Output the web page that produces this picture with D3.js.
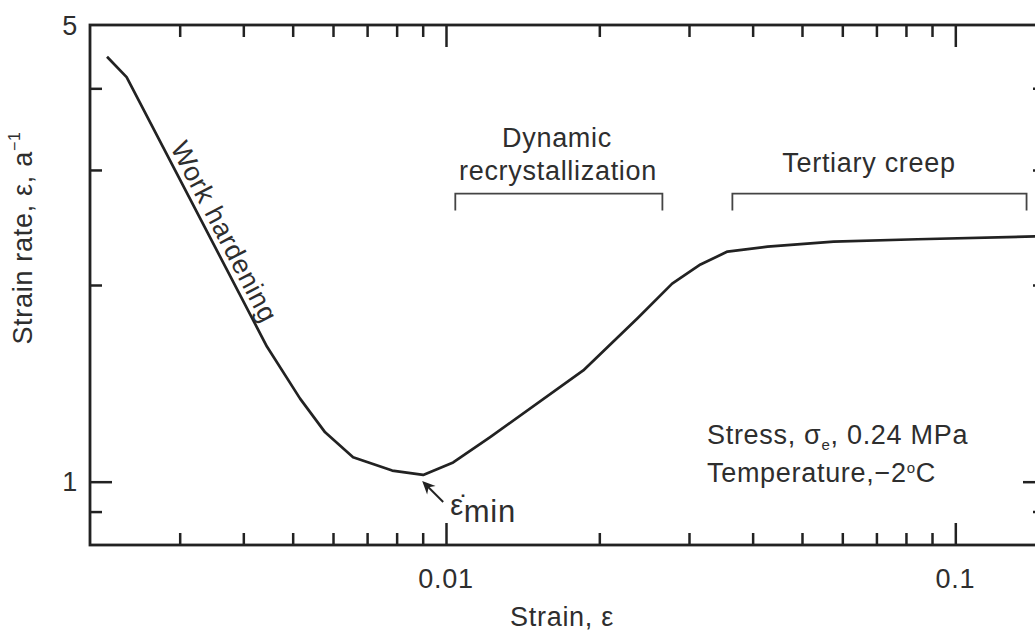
<!DOCTYPE html>
<html>
<head>
<meta charset="utf-8">
<script src="https://cdn.jsdelivr.net/npm/d3@7"></script>
<style>
  html, body { margin: 0; padding: 0; background: #fff; }
  svg { display: block; }
  text { font-family: "Liberation Sans", Arial, Helvetica, sans-serif; fill: #2e2e2e; letter-spacing: 0.7px; }
</style>
</head>
<body>
<svg id="chart" width="1035" height="633"></svg>
<script>
// ---- data ----
const strain = [0.00216, 0.00236, 0.00445, 0.00517, 0.00579, 0.00657, 0.00784, 0.00902,
                0.01033, 0.01221, 0.0186, 0.0238, 0.0278, 0.0316, 0.0357, 0.0428,
                0.0577, 0.0843, 0.15];
const strainRate = [4.47, 4.16, 1.61, 1.34, 1.19, 1.09, 1.04, 1.024,
                    1.07, 1.17, 1.48, 1.78, 2.01, 2.15, 2.25, 2.29,
                    2.33, 2.35, 2.375];
const xMajorTicks = [0.01, 0.1];
const xMajorLabels = ["0.01", "0.1"];
const xMinorTicks = [0.003, 0.004, 0.005, 0.006, 0.007, 0.008, 0.009,
                     0.02, 0.03, 0.04, 0.05, 0.06, 0.07, 0.08, 0.09];
const yMajorTicks = [1, 5];
const yMajorLabels = ["1", "5"];
const yMinorTicks = [0.9, 2, 3, 4];
const minPoint = [0.00902, 1.024];
const bracketDyn = [0.01043, 0.0266];
const bracketTer = [0.0365, 0.138];
const bracketTop = 2.76, bracketEnd = 2.60;

// ---- scales ----
const svg = d3.select("#chart");
const x = d3.scaleLog().domain([0.002, 0.15]).range([90, 1045]);
const y = d3.scaleLog().domain([0.8, 5]).range([545, 25]);
const ink = "#222";
const FS = 27;

// ticks (inward on all four sides)
function xt(g, vals, size, top) {
  const ax = (top ? d3.axisTop(x) : d3.axisBottom(x)).tickValues(vals).tickSize(-size).tickFormat("");
  g.call(ax);
  g.select(".domain").remove();
  g.selectAll(".tick line").attr("stroke", ink).attr("stroke-width", 2.5);
}
function yt(g, vals, size, right) {
  const ax = (right ? d3.axisRight(y) : d3.axisLeft(y)).tickValues(vals).tickSize(-size).tickFormat("");
  g.call(ax);
  g.select(".domain").remove();
  g.selectAll(".tick line").attr("stroke", ink).attr("stroke-width", 2.5);
}
xt(svg.append("g").attr("transform", "translate(0,545)"), xMinorTicks, 12, false);
xt(svg.append("g").attr("transform", "translate(0,545)"), xMajorTicks, 22, false);
xt(svg.append("g").attr("transform", "translate(0,25)"), xMinorTicks, 12, true);
xt(svg.append("g").attr("transform", "translate(0,25)"), xMajorTicks, 22, true);
yt(svg.append("g").attr("transform", "translate(90,0)"), yMinorTicks, 12, false);
yt(svg.append("g").attr("transform", "translate(90,0)"), yMajorTicks.filter(d => d < 5), 22, false);
yt(svg.append("g").attr("transform", "translate(1045,0)"), yMinorTicks, 12, true);
yt(svg.append("g").attr("transform", "translate(1045,0)"), yMajorTicks.filter(d => d < 5), 22, true);

// frame
svg.append("rect")
  .attr("x", x.range()[0]).attr("y", y.range()[1])
  .attr("width", x.range()[1] - x.range()[0]).attr("height", y.range()[0] - y.range()[1])
  .attr("fill", "none").attr("stroke", ink).attr("stroke-width", 2.8);

// tick labels
svg.selectAll(".xl").data(xMajorTicks).join("text")
  .attr("x", d => x(d)).attr("y", 588).attr("text-anchor", "middle")
  .attr("font-size", FS).text((d, i) => xMajorLabels[i]);
svg.selectAll(".yl").data(yMajorTicks).join("text")
  .attr("x", 78).attr("y", d => y(d)).attr("dy", "0.36em").attr("text-anchor", "end")
  .attr("font-size", FS).text((d, i) => yMajorLabels[i]);

// axis titles
svg.append("text").attr("x", 562).attr("y", 626).attr("text-anchor", "middle")
  .attr("font-size", FS).text("Strain, ε");
const yl = svg.append("text").attr("transform", "translate(32,238) rotate(-90)")
  .attr("text-anchor", "middle").attr("font-size", FS);
yl.append("tspan").text("Strain rate, ε, a");
yl.append("tspan").attr("font-size", 16).attr("dy", -12).text("−1");

// curve
const pts = strain.map((s, i) => [s, strainRate[i]]);
svg.append("path").datum(pts)
  .attr("fill", "none").attr("stroke", ink).attr("stroke-width", 2.7)
  .attr("stroke-linejoin", "round")
  .attr("d", d3.line().x(d => x(d[0])).y(d => y(d[1])));

// Work hardening label along the line
const p0 = [x(strain[1]), y(strainRate[1])], p1 = [x(strain[2]), y(strainRate[2])];
const ang = Math.atan2(p1[1] - p0[1], p1[0] - p0[0]) * 180 / Math.PI;
const t = 0.6;
const mx = p0[0] + (p1[0] - p0[0]) * t, my = p0[1] + (p1[1] - p0[1]) * t;
const rad = ang * Math.PI / 180;
const off = 6;
svg.append("text")
  .attr("transform", `translate(${mx + Math.sin(rad) * off},${my - Math.cos(rad) * off}) rotate(${ang})`)
  .attr("text-anchor", "middle").attr("font-size", FS).text("Work hardening");

// brackets
function bracket(r) {
  const x0 = x(r[0]), x1 = x(r[1]), yt0 = y(bracketTop), ye = y(bracketEnd);
  svg.append("path")
    .attr("d", `M${x0},${ye}V${yt0}H${x1}V${ye}`)
    .attr("fill", "none").attr("stroke", "#444").attr("stroke-width", 1.8);
}
bracket(bracketDyn);
bracket(bracketTer);
svg.append("text").attr("x", 557).attr("y", 147).attr("text-anchor", "middle")
  .attr("font-size", FS).text("Dynamic");
svg.append("text").attr("x", 558).attr("y", 180).attr("text-anchor", "middle")
  .attr("font-size", FS).text("recrystallization");
svg.append("text").attr("x", 869).attr("y", 172).attr("text-anchor", "middle")
  .attr("font-size", FS).text("Tertiary creep");

// conditions
const s1 = svg.append("text").attr("x", 707).attr("y", 444).attr("font-size", FS);
s1.append("tspan").text("Stress, σ");
s1.append("tspan").attr("font-size", 15).attr("dy", 6).text("e");
s1.append("tspan").attr("dy", -6).text(", 0.24 MPa");
const s2 = svg.append("text").attr("x", 707).attr("y", 482).attr("font-size", FS);
s2.append("tspan").text("Temperature,−2");
s2.append("tspan").attr("font-size", 15).attr("dy", -9).text("o");
s2.append("tspan").attr("dy", 9).text("C");

// minimum arrow
const mxp = x(minPoint[0]), myp = y(minPoint[1]);
const ax0 = mxp + 20, ay0 = myp + 27, ax1 = mxp - 1, ay1 = myp + 6;
svg.append("line").attr("x1", ax0).attr("y1", ay0).attr("x2", ax1 + 3).attr("y2", ay1 + 3)
  .attr("stroke", ink).attr("stroke-width", 2);
const aa = Math.atan2(ay1 - ay0, ax1 - ax0);
const hl = 13, hw = 6;
const bx = ax1 - Math.cos(aa) * hl, by = ay1 - Math.sin(aa) * hl;
svg.append("path")
  .attr("d", `M${ax1},${ay1}L${bx - Math.sin(aa) * hw},${by + Math.cos(aa) * hw}L${bx + Math.cos(aa) * 4},${by + Math.sin(aa) * 4}L${bx + Math.sin(aa) * hw},${by - Math.cos(aa) * hw}Z`)
  .attr("fill", ink);
const em = svg.append("text").attr("x", mxp + 27).attr("y", myp + 40).attr("font-size", 29);
em.append("tspan").text("ε\u0307");
em.append("tspan").attr("dy", 7).attr("font-size", 31).text("min");
</script>
</body>
</html>
